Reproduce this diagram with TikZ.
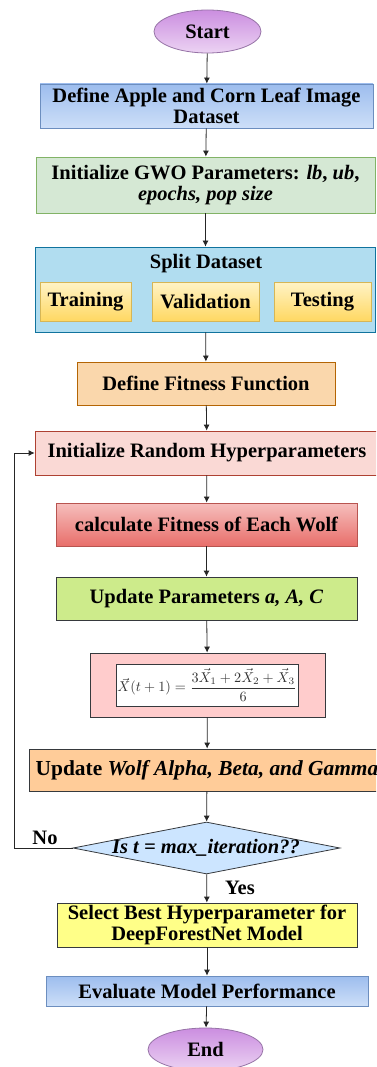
\documentclass[tikz,border=0pt]{standalone}
\usepackage{graphicx}
\usepackage{fontspec}
\setmainfont{Liberation Serif}
\usetikzlibrary{shapes.geometric,arrows.meta}

\definecolor{edgegray}{HTML}{36393D}
\definecolor{bluetop}{HTML}{9DBDEE}
\definecolor{bluebot}{HTML}{CDDFF8}
\definecolor{blueedge}{HTML}{6C8EBF}
\definecolor{purtop}{HTML}{CB8EE0}
\definecolor{purbot}{HTML}{ECD3F3}
\definecolor{puredge}{HTML}{9673A6}
\definecolor{greenfill}{HTML}{D5E8D4}
\definecolor{greenedge}{HTML}{82B366}
\definecolor{splitfill}{HTML}{B1DDF0}
\definecolor{splitedge}{HTML}{10739E}
\definecolor{yeltop}{HTML}{FFF3C6}
\definecolor{yelbot}{HTML}{FFD862}
\definecolor{yeledge}{HTML}{D6B656}
\definecolor{orangefill}{HTML}{FAD7AC}
\definecolor{orangeedge}{HTML}{B46504}
\definecolor{pinkfill}{HTML}{FAD9D5}
\definecolor{pinkedge}{HTML}{AE4132}
\definecolor{redtop}{HTML}{F6BFBD}
\definecolor{redbot}{HTML}{E86E6A}
\definecolor{rededge}{HTML}{B85450}
\definecolor{limefill}{HTML}{CDEB8B}
\definecolor{rosefill}{HTML}{FFCCCC}
\definecolor{peachfill}{HTML}{FFCC99}
\definecolor{skyfill}{HTML}{CCE5FF}
\definecolor{lemonfill}{HTML}{FFFF88}

\begin{document}
\begin{tikzpicture}[x=1pt,y=-1pt,
  txt/.style={font=\bfseries\fontsize{20.5}{21}\selectfont},
  box/.style={txt, draw, line width=0.8pt, inner sep=0pt, align=center},
  term/.style={box, ellipse, draw=puredge, top color=purtop, bottom color=purbot},
  bluebox/.style={box, draw=blueedge, top color=bluetop, bottom color=bluebot},
  subbox/.style={box, draw=yeledge, top color=yeltop, bottom color=yelbot,
    minimum height=39pt},
  decision/.style={diamond, draw=edgegray, line width=0.8pt, fill=skyfill,
    inner sep=0pt, minimum width=267pt, minimum height=52pt},
  arr/.style={draw=black!85, line width=0.8pt, -{Latex[length=6pt,width=6pt]}}]

\useasboundingbox (0,0) rectangle (376,1067);
\clip (0,0) rectangle (376,1067);

% main column of steps
\node[term, minimum width=107pt, minimum height=43pt] (start) at (207.5,31.5) {Start};
\node[bluebox, minimum width=333pt, minimum height=44pt] (b1) at (206.5,106)
  {Define Apple and Corn Leaf Image\\Dataset};
\node[box, draw=greenedge, fill=greenfill, minimum width=339pt, minimum height=56pt]
  (b2) at (205.5,185)
  {Initialize GWO Parameters: \textit{lb}, \textit{ub},\\\textit{epochs, pop size}};
\node[box, draw=splitedge, fill=splitfill, minimum width=340pt, minimum height=85pt]
  (b3) at (205.5,289.5) {};
\node[txt] (b3title) at (206,264) {Split Dataset};
\node[subbox, minimum width=91pt] (train) at (85.5,301.5) {Training};
\node[subbox, minimum width=107pt] (valid) at (205.5,301.5) {Validation};
\node[subbox, minimum width=97pt] (test) at (322.5,301.5) {Testing};
\node[box, draw=orangeedge, fill=orangefill, minimum width=258pt, minimum height=43pt]
  (b4) at (206,383.5) {Define Fitness Function};
\node[box, draw=pinkedge, fill=pinkfill, minimum width=344pt, minimum height=44pt]
  (b5) at (207,453) {Initialize Random Hyperparameters};
\node[box, draw=rededge, top color=redtop, bottom color=redbot,
  minimum width=301pt, minimum height=43pt] (b6) at (206.5,524.5)
  {calculate Fitness of Each Wolf};
\node[box, draw=edgegray, fill=limefill, minimum width=301pt, minimum height=43pt]
  (b7) at (206.5,598.5) {Update Parameters \textit{a, A, C}};
\node[box, draw=edgegray, fill=rosefill, minimum width=235pt, minimum height=64pt]
  (b8) at (207.5,685) {};
\node[draw=edgegray, line width=0.8pt, fill=white, inner sep=0pt,
  minimum width=182pt, minimum height=42pt, text=black!80] (fx) at (207,685)
  {\scalebox{1.42}{$\displaystyle \vec{X}(t+1) = \frac{3\vec{X}_1 + 2\vec{X}_2 + \vec{X}_3}{6}$}};
\node[box, draw=edgegray, fill=peachfill, minimum width=356pt, minimum height=42pt,
  font=\bfseries\fontsize{21.4}{22}\selectfont]
  (b9) at (207,770) {Update \textit{Wolf Alpha, Beta, and Gamma}};
\node[decision] (dec) at (206.5,848) {};
\node[txt, font=\bfseries\itshape\fontsize{20.5}{21}\selectfont] (dectext) at (206,848)
  {Is t = max\_iteration??};
\node[box, draw=edgegray, fill=lemonfill, minimum width=300pt, minimum height=44pt]
  (b10) at (207,925) {Select Best Hyperparameter for\\DeepForestNet Model};
\node[bluebox, minimum width=322pt, minimum height=30pt] (b11) at (207,991)
  {Evaluate Model Performance};
\node[term, minimum width=115pt, minimum height=43pt] (end) at (205.5,1049.5) {End};

% branch labels
\node[txt] (no) at (45,838) {No};
\node[txt] (yes) at (240,888) {Yes};

% connectors
\draw[arr] (start) -- (b1);
\draw[arr] (b1) -- (b2);
\draw[arr] (b2) -- (b3);
\draw[arr] (b3) -- (b4);
\draw[arr] (b4) -- (b5);
\draw[arr] (b5) -- (b6);
\draw[arr] (b6) -- (b7);
\draw[arr] (b7) -- (b8);
\draw[arr] (b8) -- (b9);
\draw[arr] (b9) -- (dec);
\draw[arr] (dec) -- (b10);
\draw[arr] (b10) -- (b11);
\draw[arr] (b11) -- (end);
\coordinate (loop) at (14,848);
\draw[arr] (dec.west) -- (loop) |- (b5.west);
\end{tikzpicture}
\end{document}
